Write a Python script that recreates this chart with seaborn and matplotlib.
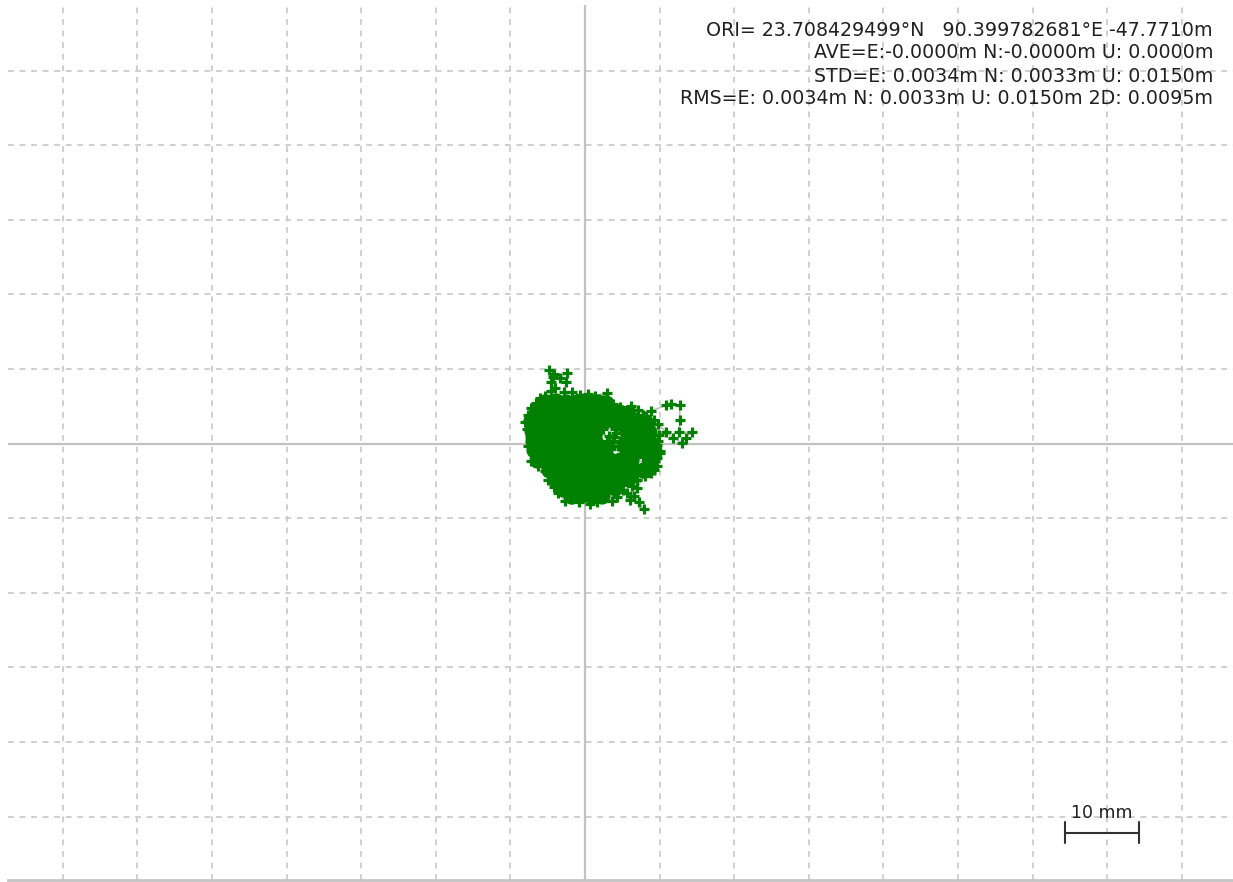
#!/usr/bin/env python3
"""Ground track scatter of position solutions (E/N offsets from origin), RTKPLOT style."""

import matplotlib
matplotlib.use("Agg")
import matplotlib.pyplot as plt
import seaborn as sns

# --- data (mm, east / north offsets from the origin) ---
# dense part of the solution cloud
core_east = [
    -5.3, -3.9, -2.5, -1.1, 0.3, 1.7, 2.8,
    -6.5, -5.1, -3.7, -2.3, -0.9, 0.5, 1.9, 3.3, 4.6, 5.7,
    -7.2, -5.8, -4.4, -3.0, -1.6, -0.2, 1.2, 2.6, 4.0, 5.4, 6.8, 8.2,
    -7.1, -5.7, -4.3, -2.9, -1.5, -0.1, 1.3, 5.6, 7.0, 8.6,
    -7.0, -5.6, -4.2, -2.8, -1.4, 0.0, 1.4, 5.7, 7.1, 8.6,
    -6.9, -5.5, -4.1, -2.7, -1.3, 0.1, 1.5, 2.7, 5.6, 7.0, 8.7,
    -6.5, -5.1, -3.7, -2.3, -0.9, 0.5, 1.9, 3.3, 4.7, 6.1, 8.7,
    -4.8, -3.4, -2.0, -0.6, 0.8, 2.2, 3.6, 5.0, 6.4, 7.8,
    -4.0, -2.6, -1.2, 0.2, 1.6, 3.0, 4.4, 5.8,
    -3.0, -1.6, -0.2, 1.2, 2.6, 4.0,
    -1.9, -0.5, 0.9, 2.3,
]
core_north = [
    5.6, 5.7, 5.5, 5.6, 5.6, 5.5, 5.4,
    4.3, 4.4, 4.2, 4.3, 4.3, 4.4, 4.2, 4.3, 4.2, 4.1,
    3.0, 3.1, 2.9, 3.0, 3.0, 3.1, 2.9, 3.0, 3.0, 2.9, 3.0, 2.8,
    1.7, 1.8, 1.6, 1.7, 1.7, 1.8, 1.6, 1.7, 1.7, 1.6,
    0.4, 0.5, 0.3, 0.4, 0.4, 0.5, 0.3, 0.4, 0.4, 0.3,
    -0.9, -0.8, -1.0, -0.9, -0.9, -0.8, -1.0, -0.9, -0.9, -0.9, -1.0,
    -2.2, -2.1, -2.3, -2.2, -2.2, -2.1, -2.3, -2.2, -2.2, -2.2, -2.3,
    -3.5, -3.4, -3.6, -3.5, -3.5, -3.4, -3.6, -3.5, -3.5, -3.6,
    -4.8, -4.7, -4.9, -4.8, -4.8, -4.7, -4.9, -4.8,
    -6.1, -6.0, -6.2, -6.1, -6.1, -6.0,
    -7.0, -6.9, -7.1, -7.0,
]

# time-ordered track around the edge of the cloud, with the outliers
track_east = [
    3.2, 3.8, 4.4, 3.5, 2.9, 4.1, 5.2,
    6.6, 7.8, 8.9,
    10.9, 11.5, 12.7, 12.7, 12.6, 14.3, 13.5, 13.0, 11.8, 10.8, 9.8,
    9.9, 9.6, 10.1, 9.4, 7.8, 8.5, 9.2, 8.1, 7.0, 6.3,
    6.0, 6.6, 7.2, 7.9, 5.6, 5.1,
    4.3, 3.6, 2.6, 1.6, 0.7, 0.0, -0.8, -1.8, -2.7, -3.6, -4.2, -4.9, -5.4,
    -6.3, -7.3, -7.0, -7.6, -7.4, -7.8, -8.1, -7.6, -7.3, -6.6, -6.0,
    -5.3, -4.5, -4.0, -4.6, -4.3, -4.8, -4.1, -3.4, -2.4, -2.5, -2.8,
    -1.7, -0.7, 0.4, 1.3, 2.9, 2.6, 3.8, 4.7, 5.6,
    6.1, 7.1, 8.2, 9.3, 9.8, 10.0, 9.7,
    4.6, 3.9, 4.7, 3.3, 2.4, 4.0, 8.8, 9.6, 6.9,
]
track_north = [
    1.0, 0.2, -0.4, -0.8, 0.4, 1.4, 2.4,
    3.8, 3.8, 4.4,
    5.1, 5.3, 5.2, 3.2, 1.5, 1.5, 0.8, 0.1, 0.8, 1.6, 2.6,
    1.2, -0.2, -1.3, -2.4, -1.8, -2.9, -3.6, -4.3, -4.9, -5.7,
    -7.6, -7.0, -7.9, -8.8, -6.6, -6.2,
    -7.2, -7.7, -7.0, -7.8, -8.1, -7.2, -7.9, -7.5, -7.7, -6.6, -5.8, -4.9, -3.7,
    -3.0, -2.3, -1.2, -0.3, 0.9, 2.0, 2.9, 3.8, 4.7, 5.4, 6.1,
    6.4, 7.0, 7.4, 8.2, 8.9, 9.9, 9.3, 8.8, 9.5, 8.3, 6.9,
    6.9, 6.5, 6.7, 6.4, 6.8, 5.8, 5.3, 4.9, 4.3,
    5.0, 4.5, 3.7, 3.1, 0.4, -1.0, -3.0,
    2.3, 0.9, 0.3, -0.3, 1.9, 2.0, -4.0, -2.0, -6.0,
]

grid_east = list(range(-70, 90, 10))
grid_north = list(range(-50, 60, 10))

stats_lines = [
    "ORI= 23.708429499\u00b0N   90.399782681\u00b0E -47.7710m",
    "AVE=E:-0.0000m N:-0.0000m U: 0.0000m",
    "STD=E: 0.0034m N: 0.0033m U: 0.0150m",
    "RMS=E: 0.0034m N: 0.0033m U: 0.0150m 2D: 0.0095m",
]
scale_label = "10 mm"
scale_mm = 10

W, H = 1233, 882
MARK = "#008000"
LINE = "#bcbcbc"
GRID = "#cbcbcb"
TEXT = "#202020"


def setup_axes(fig):
    """Plot area in figure pixels: x 8..1233, y 5..880 (7.46 px per mm)."""
    ax = fig.add_axes([8 / W, 2 / H, 1225 / W, 875 / H])
    ax.set_xlim(-77.35, 86.86)
    ax.set_ylim(-58.51, 58.78)
    ax.set_xticks(grid_east)
    ax.set_yticks(grid_north)
    ax.tick_params(length=0, labelbottom=False, labelleft=False)
    ax.set_axisbelow(True)
    ax.grid(True, color=GRID, linestyle=(0, (3.2, 3.2)), linewidth=1.3)
    for side in ["top", "left", "right"]:
        ax.spines[side].set_visible(False)
    ax.spines["bottom"].set_color("#c4c4c4")
    ax.spines["bottom"].set_linewidth(2.0)
    ax.axhline(0, color="#c2c2c2", lw=1.6, zorder=0.8)
    ax.axvline(0, color="#c2c2c2", lw=1.6, zorder=0.8)
    ax.set_xlabel("")
    ax.set_ylabel("")
    return ax


def plot_track(ax):
    sns.lineplot(x=track_east, y=track_north, sort=False, estimator=None,
                 color=LINE, lw=1.1, ax=ax, zorder=1)
    sns.scatterplot(x=core_east, y=core_north, s=135, marker="o",
                    color=MARK, linewidth=0, ax=ax, zorder=2)
    sns.scatterplot(x=track_east, y=track_north, s=48, marker="+",
                    color=MARK, linewidth=2.3, ax=ax, zorder=3)


def draw_scale(ax):
    x0, yb = 64.3, -52.2
    x1 = x0 + scale_mm
    ax.plot([x0, x1], [yb, yb], color="#303030", lw=1.5, zorder=4)
    ax.plot([x0, x0], [yb - 1.4, yb + 1.4], color="#303030", lw=1.5, zorder=4)
    ax.plot([x1, x1], [yb - 1.4, yb + 1.4], color="#303030", lw=1.5, zorder=4)
    ax.text((x0 + x1) / 2, -50.2, scale_label, ha="center", va="baseline",
            fontsize=12.5, color=TEXT, zorder=4)


def draw_stats(fig):
    baselines = [36, 58.5, 81.5, 104.5]
    for line, y in zip(stats_lines, baselines):
        fig.text(1213 / W, 1 - y / H, line, ha="right", va="baseline",
                 fontsize=13.7, color=TEXT)


def main():
    sns.set_theme(style="white")
    plt.rcParams["font.family"] = ["DejaVu Sans"]
    fig = plt.figure(figsize=(W / 100, H / 100), dpi=100)
    fig.patch.set_facecolor("white")
    ax = setup_axes(fig)
    plot_track(ax)
    draw_scale(ax)
    draw_stats(fig)
    fig.savefig("out.png", dpi=100)


if __name__ == "__main__":
    main()
